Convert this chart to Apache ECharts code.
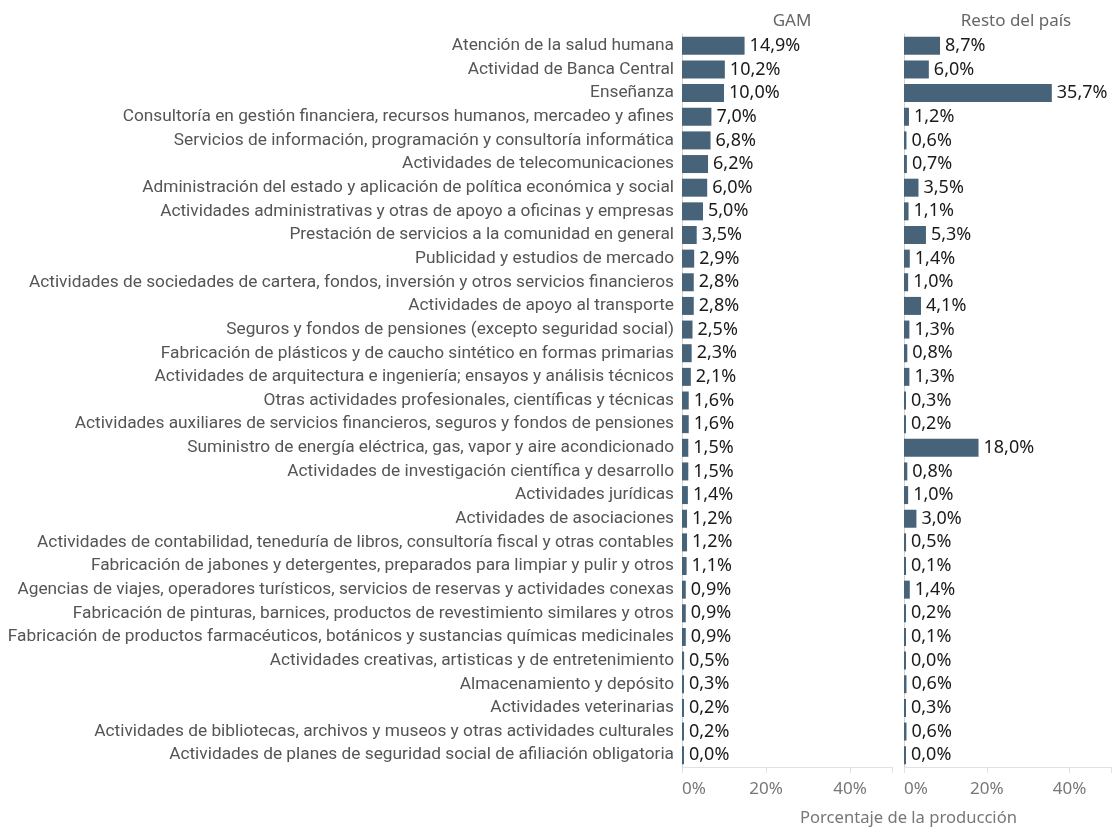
<!DOCTYPE html>
<html>
<head>
<meta charset="utf-8">
<script src="https://cdn.jsdelivr.net/npm/echarts@6/dist/echarts.min.js"></script>
<style>
  html, body { margin: 0; padding: 0; background: #fff; }
  #main { width: 1114px; height: 828px; }
</style>
</head>
<body>
<div id="main"></div>
<script>
// sectores, ordenados como en el gráfico (arriba -> abajo)
const sectores = [
  'Atención de la salud humana',
  'Actividad de Banca Central',
  'Enseñanza',
  'Consultoría en gestión financiera, recursos humanos, mercadeo y afines',
  'Servicios de información, programación y consultoría informática',
  'Actividades de telecomunicaciones',
  'Administración del estado y aplicación de política económica y social',
  'Actividades administrativas y otras de apoyo a oficinas y empresas',
  'Prestación de servicios a la comunidad en general',
  'Publicidad y estudios de mercado',
  'Actividades de sociedades de cartera, fondos, inversión y otros servicios financieros',
  'Actividades de apoyo al transporte',
  'Seguros y fondos de pensiones (excepto seguridad social)',
  'Fabricación de plásticos y de caucho sintético en formas primarias',
  'Actividades de arquitectura e ingeniería; ensayos y análisis técnicos',
  'Otras actividades profesionales, científicas y técnicas',
  'Actividades auxiliares de servicios financieros, seguros y fondos de pensiones',
  'Suministro de energía eléctrica, gas, vapor y aire acondicionado',
  'Actividades de investigación científica y desarrollo',
  'Actividades jurídicas',
  'Actividades de asociaciones',
  'Actividades de contabilidad, teneduría de libros, consultoría fiscal y otras contables',
  'Fabricación de jabones y detergentes, preparados para limpiar y pulir y otros',
  'Agencias de viajes, operadores turísticos, servicios de reservas y actividades conexas',
  'Fabricación de pinturas, barnices, productos de revestimiento similares y otros',
  'Fabricación de productos farmacéuticos, botánicos y sustancias químicas medicinales',
  'Actividades creativas, artisticas y de entretenimiento',
  'Almacenamiento y depósito',
  'Actividades veterinarias',
  'Actividades de bibliotecas, archivos y museos y otras actividades culturales',
  'Actividades de planes de seguridad social de afiliación obligatoria'
];

const gam = [14.9, 10.2, 10.0, 7.0, 6.8, 6.2, 6.0, 5.0, 3.5, 2.9, 2.8, 2.8, 2.5, 2.3, 2.1,
  1.6, 1.6, 1.5, 1.5, 1.4, 1.2, 1.2, 1.1, 0.9, 0.9, 0.9, 0.5, 0.3, 0.2, 0.2, 0.0];
const resto = [8.7, 6.0, 35.7, 1.2, 0.6, 0.7, 3.5, 1.1, 5.3, 1.4, 1.0, 4.1, 1.3, 0.8, 1.3,
  0.3, 0.2, 18.0, 0.8, 1.0, 3.0, 0.5, 0.1, 1.4, 0.2, 0.1, 0.0, 0.6, 0.3, 0.6, 0.0];

const paneles = ['GAM', 'Resto del país'];
const ticksPct = [0, 20, 40];

const barColor = '#47637a';
const fontCat = 'Roboto, sans-serif';
const fontVal = '"Noto Sans", sans-serif';

const chart = echarts.init(document.getElementById('main'));

const pct = v => v.toFixed(1).replace('.', ',') + '%';

const xAxisCfg = (gi) => ({
  type: 'value',
  gridIndex: gi,
  min: 0,
  max: 50,
  interval: 20,
  axisLine: { show: true, lineStyle: { color: '#dfe3e8', width: 1 } },
  axisTick: { show: true, length: 6, lineStyle: { color: '#dfe3e8' } },
  splitLine: { show: false },
  axisLabel: {
    color: '#777',
    fontSize: 17,
    fontFamily: fontVal,
    margin: 14,
    alignMinLabel: 'left',
    formatter: v => (ticksPct.indexOf(v) >= 0 ? v + '%' : '')
  }
});

const yAxisCfg = (gi, showLabels) => ({
  type: 'category',
  gridIndex: gi,
  inverse: true,
  data: sectores,
  axisLine: { show: true, onZero: false, lineStyle: { color: '#c8c8c8', type: 'dotted', width: 1 } },
  axisTick: { show: false },
  axisLabel: {
    show: showLabels,
    color: '#555',
    fontSize: 17.3,
    fontFamily: fontCat,
    margin: 8
  }
});

const seriesCfg = (gi, name, data) => ({
  name: name,
  type: 'bar',
  xAxisIndex: gi,
  yAxisIndex: gi,
  data: data,
  barWidth: 18,
  barMinHeight: 2,
  itemStyle: { color: barColor },
  label: {
    show: true,
    position: 'right',
    distance: 5,
    color: '#1a1a1a',
    fontSize: 18,
    fontFamily: fontVal,
    formatter: p => pct(p.value)
  },
  labelLine: { show: false },
  silent: true
});

const option = {
  backgroundColor: '#fff',
  animation: false,
  title: [
    { text: paneles[0], left: 787, top: 8, textAlign: 'center',
      textStyle: { color: '#666', fontSize: 17, fontWeight: 'normal', fontFamily: fontVal } },
    { text: paneles[1], left: 1011, top: 8, textAlign: 'center',
      textStyle: { color: '#666', fontSize: 17, fontWeight: 'normal', fontFamily: fontVal } }
  ],
  grid: [
    { left: 682, width: 210, top: 34, height: 733 },
    { left: 904, width: 210, top: 34, height: 733 }
  ],
  xAxis: [xAxisCfg(0), xAxisCfg(1)],
  yAxis: [yAxisCfg(0, true), yAxisCfg(1, false)],
  series: [seriesCfg(0, paneles[0], gam), seriesCfg(1, paneles[1], resto)],
  graphic: [{
    type: 'text',
    left: 800,
    top: 810,
    style: {
      text: 'Porcentaje de la producción',
      fill: '#777',
      fontSize: 16.6,
      fontFamily: fontVal
    }
  }]
};

chart.setOption(option);
</script>
</body>
</html>
